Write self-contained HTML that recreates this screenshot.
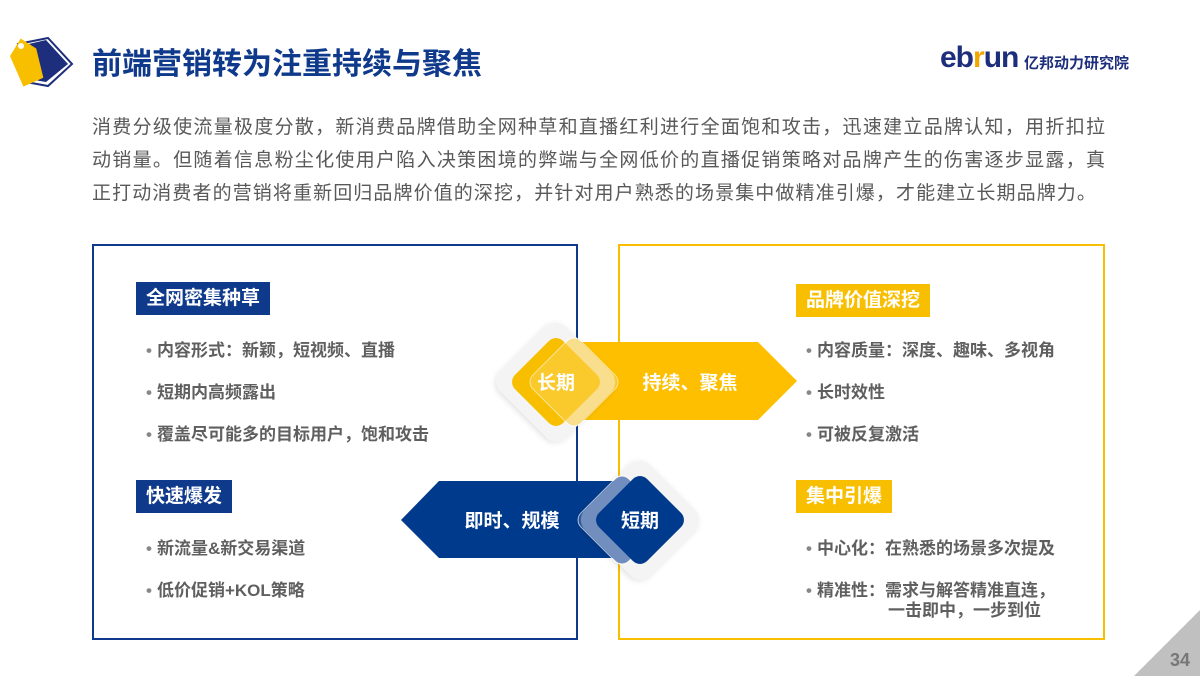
<!DOCTYPE html>
<html><head><meta charset="utf-8"><style>
*{margin:0;padding:0;box-sizing:border-box}
body{width:1200px;height:676px;background:#fff;position:relative;overflow:hidden;font-family:"Liberation Sans","Noto Sans CJK SC",sans-serif}
.a{position:absolute}
.title{left:92px;top:39px;font-size:30px;font-weight:bold;color:#0f3a8c}
.para{left:92px;top:111px;width:1013px;font-size:19px;line-height:33px;color:#595959}
.para div{text-align:justify;text-align-last:justify;white-space:nowrap;overflow:visible}
.para div.l{text-align-last:left}
.box{border:2.5px solid #0f3a8c}
.lbl{font-size:19px;font-weight:bold;color:#fff;padding:0 10px;height:33px;line-height:33px}
.bl{font-size:17px;font-weight:bold;color:#5f5f5f;white-space:nowrap;line-height:20px}
.bl:before{content:"•";color:#888;margin-right:5px}
</style></head><body>
<svg class="a" style="left:8px;top:30px" width="70" height="60" viewBox="0 0 70 60">
<path d="M10 14 L40 8 L64 34 L40 56 L18 52 Z" fill="#fff" stroke="#1d2f7c" stroke-width="2"/>
<path d="M12 16 L38 10 L60 34 L38 52 L20 49 Z" fill="#1d2f7c"/>
<path d="M3 24 L16 8 L30 20 L33 50 L12 56 Z" fill="#f8bf00" transform="rotate(-8 18 32)"/>
<circle cx="13" cy="16" r="3" fill="#fff"/>
</svg>
<div class="a title">前端营销转为注重持续与聚焦</div>
<div class="a" style="left:940px;top:41px;font-size:30px;font-weight:bold;color:#1d2f7c;letter-spacing:-1px">eb<span style="color:#f0a800">r</span>un</div>
<div class="a" style="left:1024px;top:52px;font-size:15px;font-weight:bold;color:#1d2f7c">亿邦动力研究院</div>
<div class="a para">
<div>消费分级使流量极度分散，新消费品牌借助全网种草和直播红利进行全面饱和攻击，迅速建立品牌认知，用折扣拉</div>
<div>动销量。但随着信息粉尘化使用户陷入决策困境的弊端与全网低价的直播促销策略对品牌产生的伤害逐步显露，真</div>
<div class="l" style="letter-spacing:1.1px">正打动消费者的营销将重新回归品牌价值的深挖，并针对用户熟悉的场景集中做精准引爆，才能建立长期品牌力。</div>
</div>
<div class="a box" style="left:92px;top:244px;width:486px;height:396px"></div>
<div class="a box" style="left:618px;top:244px;width:487px;height:396px;border-color:#f8bf00"></div>
<div class="a lbl" style="left:136px;top:282px;background:#0f3a8c">全网密集种草</div>
<div class="a bl" style="left:146px;top:341px">内容形式：新颖，短视频、直播</div>
<div class="a bl" style="left:146px;top:383px">短期内高频露出</div>
<div class="a bl" style="left:146px;top:425px">覆盖尽可能多的目标用户，饱和攻击</div>
<div class="a lbl" style="left:136px;top:480px;background:#0f3a8c">快速爆发</div>
<div class="a bl" style="left:146px;top:539px">新流量&amp;新交易渠道</div>
<div class="a bl" style="left:146px;top:581px">低价促销+KOL策略</div>
<div class="a lbl" style="left:796px;top:284px;background:#f8bf00">品牌价值深挖</div>
<div class="a bl" style="left:806px;top:341px">内容质量：深度、趣味、多视角</div>
<div class="a bl" style="left:806px;top:383px">长时效性</div>
<div class="a bl" style="left:806px;top:425px">可被反复激活</div>
<div class="a lbl" style="left:796px;top:480px;background:#f8bf00">集中引爆</div>
<div class="a bl" style="left:806px;top:539px">中心化：在熟悉的场景多次提及</div>
<div class="a bl" style="left:806px;top:581px">精准性：需求与解答精准直连，</div>
<div class="a bl" style="left:888px;top:601px">一击即中，一步到位</div>
<style>.a.bl[style*="888px"]:before{content:none}</style>
<svg class="a" style="left:0;top:0" width="1200" height="676">
<defs><filter id="sh" x="-30%" y="-30%" width="160%" height="160%"><feDropShadow dx="0" dy="2" stdDeviation="3" flood-color="#000" flood-opacity="0.12"/></filter></defs>
<polygon points="570,342 758,342 797,381 758,420 570,420" fill="#fdbf00"/>
<rect x="510" y="336" width="92" height="92" rx="14" transform="rotate(45 556 382)" fill="#f4f4f4" filter="url(#sh)"/>
<rect x="522" y="348" width="68" height="68" rx="10" transform="rotate(45 556 382)" fill="#f8bf00"/>
<rect x="540" y="348" width="68" height="68" rx="10" transform="rotate(45 574 382)" fill="#fcd04a" opacity="0.6" stroke="#fff"/>
<polygon points="627,481 439,481 401,520 439,558 627,558" fill="#003a8c"/>
<rect x="594" y="474" width="92" height="92" rx="14" transform="rotate(45 640 520)" fill="#f4f4f4" filter="url(#sh)"/>
<rect x="588" y="486" width="68" height="68" rx="10" transform="rotate(45 622 520)" fill="#3a64a8" opacity="0.7" stroke="#fff"/>
<rect x="606" y="486" width="68" height="68" rx="10" transform="rotate(45 640 520)" fill="#003a8c"/>
<g font-family="Liberation Sans,Noto Sans CJK SC,sans-serif" font-weight="bold" font-size="19" fill="#fff" text-anchor="middle">
<text x="556" y="389">长期</text>
<text x="690" y="389">持续、聚焦</text>
<text x="512" y="527">即时、规模</text>
<text x="640" y="527">短期</text>
</g>
<polygon points="1134,676 1200,610 1200,676" fill="#c0c0c0"/>
<text x="1180" y="666" font-family="Liberation Sans,sans-serif" font-weight="bold" font-size="18" fill="#777" text-anchor="middle">34</text>
</svg>
</body></html>
